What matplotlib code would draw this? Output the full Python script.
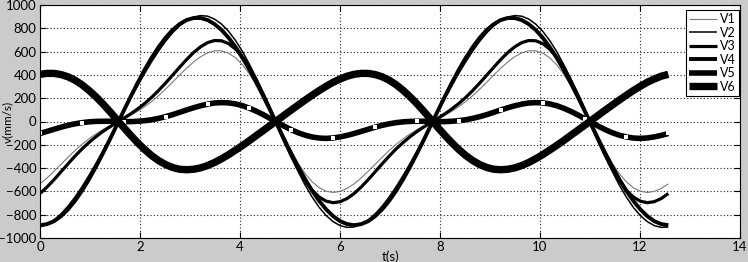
import numpy as np
import matplotlib
matplotlib.use("Agg")
import matplotlib.pyplot as plt
from matplotlib.lines import Line2D

# time grid (s): 91 samples over two periods (0 .. 4*pi)
t = np.linspace(0, 4 * np.pi, 91)

V1 = [-535, -485, -428, -368, -308, -250, -197, -149, -107, -70, -37, -7, 22, 53, 88, 127, 172, 223, 279, 338, 399, 457, 511, 556, 589, 607, 607, 587, 547, 487, 408, 313, 205, 90, -30, -148, -261, -362, -449, -519, -569, -599, -609, -600, -574,
      -535, -485, -428, -368, -308, -250, -197, -149, -107, -70, -37, -7, 22, 53, 88, 127, 172, 223, 279, 338, 399, 457, 511, 556, 589, 607, 607, 587, 547, 487, 408, 313, 205, 90, -30, -148, -261, -362, -449, -519, -569, -599, -609, -600, -574,
      -535]
V2 = [-905, -884, -846, -793, -727, -649, -561, -464, -361, -253, -142, -28, 85, 198, 308, 414, 514, 606, 689, 762, 821, 867, 897, 909, 904, 879, 836, 775, 696, 601, 491, 370, 240, 104, -35, -173, -306, -432, -548, -650, -738, -808, -860, -894, -909,
      -905, -884, -846, -793, -727, -649, -561, -464, -361, -253, -142, -28, 85, 198, 308, 414, 514, 606, 689, 762, 821, 867, 897, 909, 904, 879, 836, 775, 696, 601, 491, 370, 240, 104, -35, -173, -306, -432, -548, -650, -738, -808, -860, -894, -909,
      -905]
V3 = [-618, -563, -500, -432, -364, -298, -236, -181, -131, -86, -46, -9, 28, 66, 108, 155, 208, 267, 331, 398, 466, 532, 592, 641, 677, 695, 693, 669, 622, 553, 463, 355, 233, 102, -34, -168, -296, -411, -511, -591, -649, -684, -697, -688, -661,
      -618, -563, -500, -432, -364, -298, -236, -181, -131, -86, -46, -9, 28, 66, 108, 155, 208, 267, 331, 398, 466, 532, 592, 641, 677, 695, 693, 669, 622, 553, 463, 355, 233, 102, -34, -168, -296, -411, -511, -591, -649, -684, -697, -688, -661,
      -618]
V4 = [-890, -881, -856, -813, -755, -682, -596, -498, -390, -275, -155, -31, 93, 215, 333, 445, 548, 640, 720, 786, 836, 871, 888, 888, 871, 836, 786, 720, 640, 548, 445, 333, 215, 93, -31, -155, -275, -390, -498, -596, -682, -755, -813, -856, -881,
      -890, -881, -856, -813, -755, -682, -596, -498, -390, -275, -155, -31, 93, 215, 333, 445, 548, 640, 720, 786, 836, 871, 888, 888, 871, 836, 786, 720, 640, 548, 445, 333, 215, 93, -31, -155, -275, -390, -498, -596, -682, -755, -813, -856, -881,
      -890]
V5 = [-103, -85, -67, -49, -33, -20, -10, -3, 1, 2, 2, 0, -1, -1, 2, 7, 15, 27, 42, 59, 79, 99, 118, 135, 149, 159, 162, 160, 151, 136, 114, 88, 58, 25, -8, -41, -71, -97, -118, -133, -142, -145, -141, -132, -119,
      -103, -85, -67, -49, -33, -20, -10, -3, 1, 2, 2, 0, -1, -1, 2, 7, 15, 27, 42, 59, 79, 99, 118, 135, 149, 159, 162, 160, 151, 136, 114, 88, 58, 25, -8, -41, -71, -97, -118, -133, -142, -145, -141, -132, -119,
      -103]
V6 = [405, 413, 413, 403, 384, 355, 316, 268, 213, 152, 86, 17, -52, -119, -183, -241, -293, -336, -370, -395, -410, -414, -410, -398, -378, -352, -320, -285, -246, -206, -164, -120, -77, -33, 11, 55, 99, 142, 185, 226, 266, 303, 337, 365, 389,
      405, 413, 413, 403, 384, 355, 316, 268, 213, 152, 86, 17, -52, -119, -183, -241, -293, -336, -370, -395, -410, -414, -410, -398, -378, -352, -320, -285, -246, -206, -164, -120, -77, -33, 11, 55, 99, 142, 185, 226, 266, 303, 337, 365, 389,
      405]

series_names = ["V1", "V2", "V3", "V4", "V5", "V6"]
x_ticks = [0, 2, 4, 6, 8, 10, 12, 14]
y_ticks = [-1000, -800, -600, -400, -200, 0, 200, 400, 600, 800, 1000]

plt.rcParams["font.family"] = ["Lato", "DejaVu Sans"]

fig = plt.figure(figsize=(7.48, 2.62), dpi=100, facecolor="#cbcbcb")
ax = fig.add_axes([40 / 748, 1 - 238 / 262, 700 / 748, 233 / 262])
ax.set_facecolor("white")

styles = [
    dict(color="#7a7a7a", lw=0.8),
    dict(color="black", lw=1.1),
    dict(color="black", lw=2.3),
    dict(color="black", lw=2.8),
    dict(color="black", lw=4.0),
    dict(color="black", lw=5.3),
]
data = [V1, V2, V3, V4, V5, V6]
for name, vals, st in zip(series_names, data, styles):
    extra = {}
    if name == "V5":
        extra = dict(marker="s", markersize=3.3, markerfacecolor="white",
                     markeredgewidth=0, markevery=6)
    ax.plot(t, vals, label=name, solid_capstyle="butt", **st, **extra)

ax.set_xlim(0, 14)
ax.set_ylim(-1000, 1000)
ax.set_xticks(x_ticks)
ax.set_yticks(y_ticks)
ax.grid(True, color="#222222", linestyle=(0, (1, 2)), linewidth=0.8)
ax.tick_params(direction="in", length=4, width=0.8, top=True, right=True,
               labelsize=9.5, pad=2.5, colors="black")
for sp in ax.spines.values():
    sp.set_linewidth(0.8)
    sp.set_color("black")

ax.set_xlabel("t(s)", fontsize=9.5, labelpad=-2.5)
ax.set_ylabel("v(mm/s)", fontsize=8.5, rotation=90)
ax.yaxis.set_label_coords(-0.0385, 0.5)

leg_handles = [Line2D([], [], color=st["color"], lw=st["lw"], solid_capstyle="butt") for st in styles]
leg = ax.legend(leg_handles, series_names, loc="upper right", bbox_to_anchor=(0.999, 0.979),
                borderaxespad=0, fontsize=9, labelspacing=0.12, handlelength=2.2,
                handletextpad=0.3, borderpad=0.25, fancybox=False, framealpha=1,
                edgecolor="black")
leg.get_frame().set_linewidth(0.8)

fig.savefig("out.png", dpi=100, facecolor=fig.get_facecolor())
